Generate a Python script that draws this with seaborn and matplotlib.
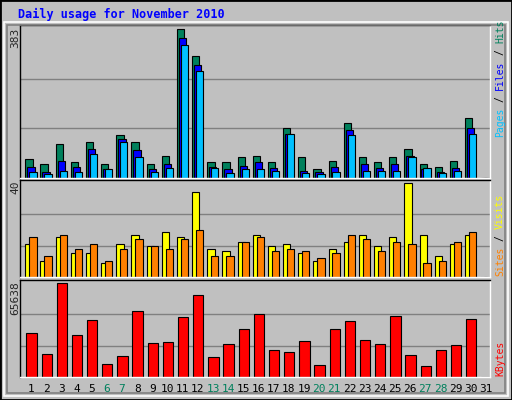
import matplotlib
matplotlib.use("Agg")
import matplotlib.pyplot as plt
import seaborn as sns
import numpy as np
from matplotlib.patches import Rectangle

days = list(range(1, 32))
hits = [50,35,87,42,94,37,110,92,37,58,383,315,42,42,53,58,42,128,53,22,45,141,55,40,55,74,37,29,45,154,0]
files = [29,16,45,29,74,24,100,71,24,37,362,292,29,24,32,40,27,113,19,16,29,123,35,27,37,58,22,16,27,128,0]
pages = [16,11,19,16,61,24,94,55,16,27,344,276,27,14,22,22,19,113,14,11,16,110,19,19,19,53,27,14,19,113,0]
visits = [14,7,17,10,10,6,14,18,13,19,17,36,12,11,15,18,13,14,10,7,12,15,18,13,17,40,18,9,14,18,0]
sites = [17,9,18,12,14,7,12,16,13,12,16,20,9,9,15,17,11,12,11,8,10,18,16,11,15,14,6,7,15,19,0]
kbytes = [30400,16050,65638,29000,39760,8860,14600,46200,23950,24670,41900,57000,13900,23230,33300,44080,
          18900,17480,25390,8140,33300,39050,26110,23230,42640,15330,7430,18900,22520,40480,0]
weekend = [6,7,13,14,20,21,27,28]
title = "Daily usage for November 2010"

sns.set_theme(style="white")
mono = "DejaVu Sans Mono"
BG = "#C0C0C0"
fig = plt.figure(figsize=(5.12, 4.0), dpi=100, facecolor=BG)

# frame
fig.patches.append(Rectangle((0, 0), 1, 1, transform=fig.transFigure, fill=False, ec="black", lw=2))
fig.patches.append(Rectangle((4/512, 4/400), 504/512, 374/400, transform=fig.transFigure,
                             fill=False, ec="white", lw=1.2))
fig.patches.append(Rectangle((7/512, 7/400), 498/512, 368/400, transform=fig.transFigure,
                             fill=False, ec="#808080", lw=1.2))

def ax_at(top, bottom):
    return fig.add_axes([20/512, 1-bottom/400, 470/512, (bottom-top)/400], facecolor=BG)

x = np.array(days)
xl = (0.27, 31.27)

def style(ax, ymax):
    ax.set_xlim(*xl)
    ax.set_ylim(0, ymax*1.03)
    for f in (1/3, 2/3):
        ax.axhline(ymax*f, color="#808080", lw=1, zorder=0)
    ax.set_xticks([]); ax.set_yticks([])
    for s in ax.spines.values():
        s.set_color("black"); s.set_linewidth(1)
    ax.spines["right"].set_color("white"); ax.spines["bottom"].set_color("white")

ek = dict(edgecolor="black", linewidth=0.8, zorder=2)
a1 = ax_at(25, 178)
a1.bar(x-0.14, hits, 0.48, color="#00805C", **ek)
a1.bar(x-0.01, files, 0.48, color="#0000FF", **ek)
a1.bar(x+0.12, pages, 0.48, color="#00C0FF", **ek)
style(a1, max(hits))

a2 = ax_at(180, 277)
a2.bar(x-0.14, visits, 0.48, color="#FFFF00", **ek)
a2.bar(x+0.12, sites, 0.48, color="#FF8000", **ek)
style(a2, max(visits))

a3 = ax_at(280, 377)
a3.bar(x+0.03, kbytes, 0.68, color="#FF0000", **ek)
style(a3, max(kbytes))

for d in days:
    a3.text(d, -0.12, str(d), transform=a3.get_xaxis_transform(), ha="center", va="center",
            fontsize=8, family=mono, color="#00805C" if d in weekend else "black")

fig.text(18/512, 1-14/400, title, fontsize=8.5, family=mono, weight="bold", color="#0000FF", va="center")
for ypix, lab in ((28, str(max(hits))), (181, str(max(visits))), (281, str(max(kbytes)))):
    fig.text(15/512, 1-ypix/400, lab, rotation=90, fontsize=8, family=mono, ha="center", va="top")

FS = 7
def vlabel(bottom_px, parts):
    y = bottom_px
    cw = 0.602 * FS * 100 / 72
    for txt, col in parts:
        n = len(txt)
        t = txt.strip()
        lead = len(txt) - len(txt.lstrip())
        fig.text(500/512, 1-(y - lead*cw)/400, t, rotation=90, fontsize=FS, family=mono, color=col,
                 ha="center", va="bottom")
        y -= cw*n

vlabel(137, [("Pages", "#00C0FF"), (" /", "black"), (" Files", "#0000FF"), (" /", "black"), (" Hits", "#00805C")])
vlabel(276, [("Sites", "#FF8000"), (" /", "black"), (" Visits", "#FFFF00")])
vlabel(376, [("KBytes", "#FF0000")])

fig.savefig("out.png", dpi=100, facecolor=BG)
